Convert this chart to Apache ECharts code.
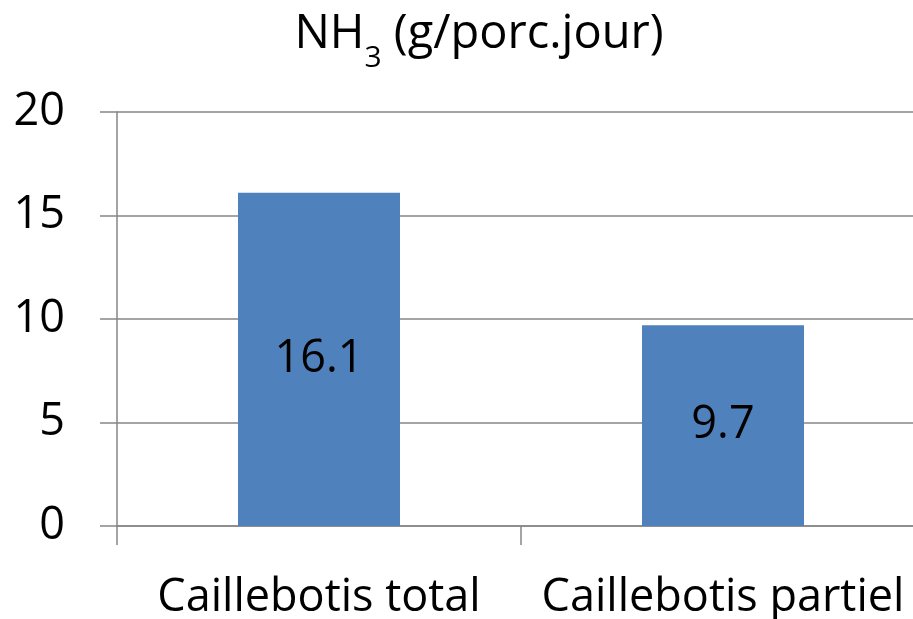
<!DOCTYPE html>
<html>
<head>
<meta charset="utf-8">
<script src="https://cdn.jsdelivr.net/npm/echarts@6/dist/echarts.min.js"></script>
<style>
  html, body { margin: 0; padding: 0; background: #fff; overflow: hidden; }
  #main { width: 925px; height: 619px; }
</style>
</head>
<body>
<div id="main"></div>
<script>
var categories = ['Caillebotis total', 'Caillebotis partiel'];
var values = [16.1, 9.7];
var yTicks = [0, 5, 10, 15, 20];

var font = '"Open Sans", "Noto Sans", sans-serif';
var fs = 45;
var myChart = echarts.init(document.getElementById('main'));
var option = {
    animation: false,
    title: {
        text: '{a|NH}{b|3}{a| (g/porc.jour)}',
        left: 474,
        textAlign: 'center',
        top: 6,
        textStyle: {
            fontFamily: font,
            fontSize: 47,
            fontWeight: 'normal',
            rich: {
                a: { fontFamily: font, fontSize: 47, fontWeight: 'normal', color: '#000', lineHeight: 64, verticalAlign: 'top' },
                b: { fontFamily: font, fontSize: 30, fontWeight: 'normal', color: '#000', lineHeight: 30, verticalAlign: 'top', padding: [32, 0, 0, 0] }
            }
        }
    },
    grid: { left: 117, right: 0, top: 112, bottom: 93, outerBoundsMode: 'none', containLabel: false },
    xAxis: {
        type: 'category',
        data: categories,
        axisLine: { lineStyle: { color: '#868686', width: 1.5 } },
        axisTick: { show: true, length: 19, lineStyle: { color: '#868686', width: 1.5 } },
        axisLabel: { color: '#000', fontFamily: font, fontSize: fs, margin: 50, interval: 0 }
    },
    yAxis: {
        type: 'value',
        min: yTicks[0],
        max: yTicks[yTicks.length - 1],
        interval: yTicks[1] - yTicks[0],
        axisLine: { show: true, lineStyle: { color: '#868686', width: 1.5 } },
        axisTick: { show: true, length: 17, lineStyle: { color: '#868686', width: 1.5 } },
        splitLine: { lineStyle: { color: '#868686', width: 1.5 } },
        axisLabel: { color: '#000', fontFamily: font, fontSize: fs, margin: 52 }
    },
    series: [{
        type: 'bar',
        data: values,
        barWidth: 162,
        itemStyle: { color: '#4F81BD' },
        label: {
            show: true,
            position: 'inside',
            color: '#000',
            fontFamily: font,
            fontSize: fs
        }
    }]
};
myChart.setOption(option);
</script>
</body>
</html>
